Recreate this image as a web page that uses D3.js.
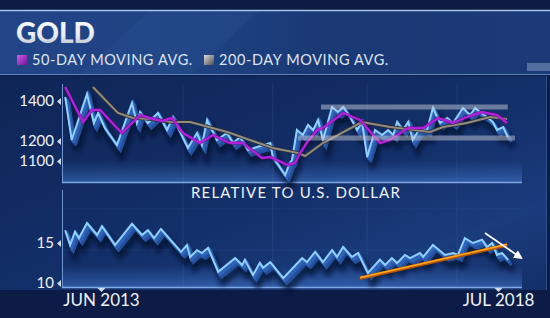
<!DOCTYPE html>
<html><head><meta charset="utf-8">
<script src="https://cdn.jsdelivr.net/npm/d3@7/dist/d3.min.js"></script>
<style>html,body{margin:0;padding:0;background:#0d2150;overflow:hidden}svg{display:block}</style>
</head><body>
<svg id="chart" width="550" height="318"></svg>
<script>
// x values are months counted from JUN 2013
const xTickMonths=[0,61];
const xTickLabels=['JUN 2013','JUL 2018'];
const gridMonths=[12.6,26.4,40.9,54.7];
const topTicks=[1100,1200,1400];
const botTicks=[10,15];
const gold=[[-5.5,1420],[-4.5,1205],[-2.15,1435],[-1.1,1290],[-0.45,1340],[0.6,1265],[2.45,1180],[4.75,1390],[5.5,1290],[6.0,1345],[7.2,1290],[8.75,1340],[10.15,1255],[11.05,1320],[13.35,1165],[14.75,1240],[15.5,1180],[16.3,1305],[17.8,1205],[19.35,1240],[20.3,1190],[21.35,1220],[22.6,1155],[24.0,1170],[26.0,1190],[26.4,1120],[28.3,1030],[29.0,1090],[29.35,1105],[30.1,1255],[31.0,1230],[31.8,1280],[32.6,1255],[33.35,1305],[34.1,1205],[35.5,1370],[36.4,1345],[37.2,1370],[38.3,1320],[39.35,1255],[40.1,1295],[40.9,1120],[42.1,1255],[43.2,1230],[44.1,1255],[44.9,1230],[45.5,1295],[46.4,1255],[47.2,1295],[47.9,1205],[49.0,1265],[50.1,1255],[51.0,1365],[52.1,1290],[53.2,1315],[54.1,1290],[55.6,1365],[56.7,1330],[57.5,1365],[58.2,1345],[59.3,1320],[60.2,1295],[60.85,1255],[61.8,1270],[62.5,1220]];
const ma50=[[-5.5,1470],[-2.75,1295],[-1.4,1355],[-0.15,1355],[3.2,1240],[6.0,1330],[7.5,1315],[9.4,1300],[10.9,1315],[12.6,1240],[15.2,1190],[17.2,1230],[19.8,1190],[21.8,1190],[24.75,1115],[26.0,1120],[28.7,1080],[29.8,1090],[30.6,1140],[31.7,1195],[33.2,1255],[34.1,1265],[37.2,1340],[39.8,1305],[42.9,1190],[44.4,1205],[47.2,1265],[49.5,1265],[51.8,1315],[54.1,1290],[56.2,1320],[58.5,1345],[60.85,1330],[62.4,1290]];
const ma200=[[-1.25,1470],[2.6,1340],[4.9,1315],[7.5,1310],[10.9,1295],[13.7,1295],[19.4,1245],[26.4,1165],[30.3,1140],[31.35,1125],[34.1,1190],[40.1,1295],[44.4,1270],[50.55,1245],[52.55,1270],[56.2,1290],[59.8,1320],[62.4,1310]];
const bands=[[33.8,62.5,1370],[30.3,63.6,1215]];
const relUsd=[[-5.5,16.6],[-4.75,14.75],[-4.0,16.4],[-3.4,15.6],[-2.15,17.5],[-0.6,16.0],[0.15,17.1],[2.15,14.75],[4.75,17.4],[6.3,16.0],[7.2,16.6],[8.15,15.6],[9.2,16.75],[12.3,13.9],[13.2,14.75],[13.7,13.25],[14.75,14.1],[15.5,13.75],[16.45,14.4],[18.0,11.4],[20.6,13.1],[21.7,12.25],[22.1,12.9],[23.35,11.0],[24.4,12.5],[24.9,11.9],[26.0,12.6],[28.0,10.6],[30.9,13.1],[31.65,12.6],[32.9,13.9],[34.1,12.6],[35.5,14.1],[36.25,13.25],[37.2,14.5],[38.55,13.25],[39.5,13.75],[41.0,11.25],[42.85,12.9],[43.65,12.25],[44.7,13.1],[45.5,12.5],[46.7,13.5],[47.5,13.1],[49.0,13.75],[49.5,13.25],[51.0,14.75],[52.85,13.5],[54.1,13.75],[54.85,13.5],[55.9,15.6],[57.15,15.0],[58.55,15.4],[59.3,14.5],[60.1,15.0],[60.85,13.5],[61.6,13.75],[62.55,12.9]];
const trend=[[39.8,10.6],[62.4,14.75]];
const arrow=[[59.0,16.25],[63.9,13.5]];

const svg=d3.select('#chart');
const x=d3.scaleLinear().domain([0,61]).range([101,498]);
const yTop=d3.scaleLinear().domain([1100,1400]).range([161,101]);
const yBot=d3.scaleLinear().domain([10,15]).range([283,243]);
const FONT='Lato, "Open Sans", sans-serif';

const defs=svg.append('defs');
function lin(id,x1,y1,x2,y2,stops){
  const g=defs.append('linearGradient').attr('id',id).attr('x1',x1).attr('y1',y1).attr('x2',x2).attr('y2',y2);
  stops.forEach(s=>g.append('stop').attr('offset',s[0]).attr('stop-color',s[1]).attr('stop-opacity',s[2]==null?1:s[2]));
}
lin('bg','0%','0%','100%','100%',[['0%','#0f2556'],['55%','#13306a'],['80%','#1a3b7c'],['100%','#142f68']]);
lin('bar','0%','0%','100%','0%',[['0%','#214587'],['35%','#1e4282'],['60%','#193874'],['100%','#1b3a77']]);
lin('goldTxt','0%','0%','0%','100%',[['0%','#ffffff'],['60%','#e8ecf2'],['100%','#aeb6c2']]);
lin('sq50','0%','0%','100%','100%',[['0%','#d55cf0'],['100%','#6a1590']]);
lin('sq200','0%','0%','100%','100%',[['0%','#dcdcdc'],['100%','#4a4a4a']]);
lin('glow','0%','0%','0%','100%',[['0%','#3f78d0',0],['100%','#4f8ae0',0.45]]);
defs.append('filter').attr('id','blur').attr('x','-10%').attr('y','-30%').attr('width','120%').attr('height','160%')
  .append('feGaussianBlur').attr('stdDeviation',2.5);
const mk=defs.append('marker').attr('id','head').attr('viewBox','0 0 10 10').attr('refX',2).attr('refY',5)
  .attr('markerWidth',5).attr('markerHeight',5).attr('orient','auto');
mk.append('path').attr('d','M0,0L10,5L0,10z').attr('fill','#fff');

// background
svg.append('rect').attr('width',550).attr('height',318).attr('fill','#0b1b44');
svg.append('rect').attr('y',76).attr('width',546).attr('height',214).attr('fill','url(#bg)');
svg.append('rect').attr('y',290).attr('width',550).attr('height',28).attr('fill','#0c1c46');
svg.append('rect').attr('y',10).attr('width',550).attr('height',65).attr('fill','url(#bar)');
svg.append('path').attr('d','M150,10L260,10L190,75L80,75Z').attr('fill','#2a4f92').attr('opacity',0.35);
svg.append('line').attr('x1',0).attr('x2',550).attr('y1',10.5).attr('y2',10.5).attr('stroke','#a9c3ea').attr('stroke-width',1.5);
svg.append('line').attr('x1',0).attr('x2',550).attr('y1',74.5).attr('y2',74.5).attr('stroke','#5f86c4').attr('stroke-width',1.2);
svg.append('rect').attr('x',527).attr('y',63).attr('width',23).attr('height',8).attr('fill','#8aa3c8').attr('opacity',0.5);
svg.append('line').attr('x1',546.5).attr('x2',546.5).attr('y1',76).attr('y2',290).attr('stroke','#2e4f8c');

// title and legend
svg.append('text').attr('x',16).attr('y',43).text('GOLD').attr('fill','url(#goldTxt)')
  .attr('font-family',FONT).attr('font-weight',900).attr('font-size',28);
const legend=[{sq:'sq50',x:17,label:'50-DAY MOVING AVG.'},{sq:'sq200',x:204,label:'200-DAY MOVING AVG.'}];
legend.forEach(l=>{
  svg.append('rect').attr('x',l.x).attr('y',55).attr('width',10).attr('height',10).attr('fill',`url(#${l.sq})`);
  svg.append('text').attr('x',l.x+15).attr('y',65).text(l.label).attr('fill','#dfe6f2')
    .attr('font-family',FONT).attr('font-size',14.5).attr('letter-spacing',0.6);
});

// panel glows, grid, axes
svg.append('rect').attr('x',62).attr('y',160).attr('width',460).attr('height',22).attr('fill','url(#glow)');
svg.append('rect').attr('x',62).attr('y',265).attr('width',460).attr('height',22).attr('fill','url(#glow)');
svg.selectAll('.grid').data(gridMonths).join('line').attr('class','grid')
  .attr('x1',d=>x(d)).attr('x2',d=>x(d)).attr('y1',84).attr('y2',287)
  .attr('stroke','#6f9ad8').attr('stroke-opacity',0.14);
[209,250].forEach(v=>svg.append('line').attr('x1',62).attr('x2',522).attr('y1',v).attr('y2',v).attr('stroke','#6f9ad8').attr('stroke-opacity',0.1));
[[84,182],[190,287]].forEach(s=>svg.append('line').attr('x1',62.5).attr('x2',62.5).attr('y1',s[0]).attr('y2',s[1]).attr('stroke','#6f95d0').attr('stroke-width',1));
[182,287].forEach(v=>svg.append('line').attr('x1',62).attr('x2',522).attr('y1',v+0.5).attr('y2',v+0.5).attr('stroke','#7fa8e6').attr('stroke-width',1.3));

function yAxis(scale,ticks){
  const g=svg.append('g').attr('transform','translate(62,0)')
    .call(d3.axisLeft(scale).tickValues(ticks).tickSize(0).tickPadding(8).tickFormat(d3.format('d')));
  g.select('.domain').remove();
  g.selectAll('text').attr('fill','#eef2f8').attr('font-family',FONT).attr('font-size',15);
  g.selectAll('.tick').append('path').attr('d','M-1,-3.5L-5,0L-1,3.5Z').attr('fill','#cfd9ea');
}
yAxis(yTop,topTicks);
yAxis(yBot,botTicks);
const xg=svg.append('g').attr('transform','translate(0,287)')
  .call(d3.axisBottom(x).tickValues(xTickMonths).tickSize(0).tickPadding(7).tickFormat((d,i)=>xTickLabels[i]));
xg.select('.domain').remove();
xg.selectAll('text').attr('fill','#eef2f8').attr('font-family',FONT).attr('font-size',17);
xg.selectAll('.tick').append('path').attr('d','M-4,1L4,1L0,5Z').attr('fill','#cfd9ea');

svg.append('text').attr('x',296).attr('y',198).attr('text-anchor','middle').text('RELATIVE TO U.S. DOLLAR')
  .attr('fill','#eef2f8').attr('font-family',FONT).attr('font-size',15).attr('letter-spacing',1.2);

// zigzag ribbons
function ribbon(data,ys){
  const line=d3.line().x(d=>x(d[0])).y(d=>ys(d[1]));
  const g=svg.append('g');
  g.append('path').datum(data).attr('d',line).attr('fill','none').attr('stroke','#040c26')
    .attr('stroke-width',6).attr('opacity',0.75).attr('filter','url(#blur)').attr('transform','translate(5,10)');
  for(let k=4;k>=1;k--){
    g.append('path').datum(data).attr('d',line).attr('fill','none').attr('stroke',k>2?'#24509e':'#2f62b9')
      .attr('stroke-width',3).attr('stroke-linejoin','miter').attr('transform',`translate(${k*0.9},${k*1.3})`);
  }
  g.append('path').datum(data).attr('d',line).attr('fill','none').attr('stroke','#8fd2ff')
    .attr('stroke-width',2).attr('stroke-linejoin','miter');
}
ribbon(gold,yTop);
ribbon(relUsd,yBot);

// moving averages
const maLine=d3.line().x(d=>x(d[0])).y(d=>yTop(d[1]));
svg.append('path').datum(ma200).attr('d',maLine).attr('fill','none').attr('stroke','#2c2c30').attr('stroke-width',3.6);
svg.append('path').datum(ma200).attr('d',maLine).attr('fill','none').attr('stroke','#918c82').attr('stroke-width',2);
svg.append('path').datum(ma50).attr('d',maLine).attr('fill','none').attr('stroke','#4a0a60').attr('stroke-width',3.6).attr('opacity',0.6);
svg.append('path').datum(ma50).attr('d',maLine).attr('fill','none').attr('stroke','#b31fdc').attr('stroke-width',2.4);

// range bands
svg.selectAll('.band').data(bands).join('rect').attr('class','band')
  .attr('x',d=>x(d[0])).attr('width',d=>x(d[1])-x(d[0]))
  .attr('y',d=>yTop(d[2])-2.5).attr('height',5).attr('fill','#c4c8d4').attr('opacity',0.5);

// trend line and arrow
const bl=d3.line().x(d=>x(d[0])).y(d=>yBot(d[1]));
svg.append('path').datum(trend).attr('d',bl).attr('stroke','#b85400').attr('stroke-width',3.6);
svg.append('path').datum(trend).attr('d',bl).attr('stroke','#ffa41a').attr('stroke-width',1.6).attr('transform','translate(0,-0.6)');
svg.append('path').datum(arrow).attr('d',bl).attr('stroke','#ffffff').attr('stroke-width',1.8).attr('marker-end','url(#head)');
</script>
</body></html>
